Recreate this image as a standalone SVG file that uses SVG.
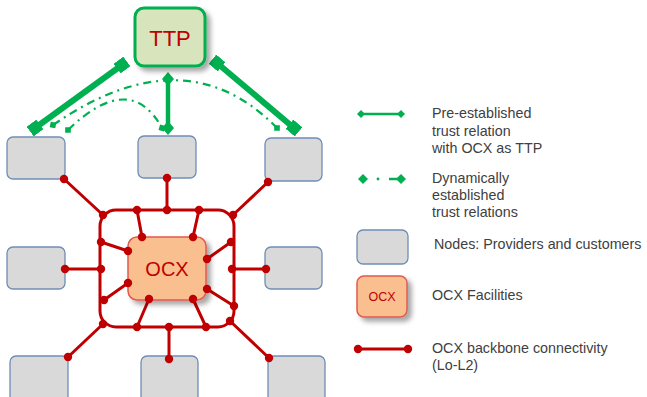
<svg xmlns="http://www.w3.org/2000/svg" width="647" height="397" viewBox="0 0 647 397">
<defs>
<filter id="sh" x="-20%" y="-20%" width="150%" height="150%">
<feDropShadow dx="4" dy="4" stdDeviation="2.5" flood-color="#000" flood-opacity="0.35"/>
</filter>
<marker id="sq" viewBox="-6 -6 12 12" markerWidth="12" markerHeight="12" markerUnits="userSpaceOnUse" orient="auto" refX="0" refY="0">
<rect x="-6" y="-6" width="12" height="12" fill="#00b050"/>
</marker>
<marker id="dm" viewBox="-7 -7 14 14" markerWidth="14" markerHeight="14" markerUnits="userSpaceOnUse" orient="auto" refX="0" refY="0">
<path d="M-7 0 L0 -6 L7 0 L0 6 Z" fill="#00b050"/>
</marker>
<marker id="sd" viewBox="-4 -4 8 8" markerWidth="8" markerHeight="8" markerUnits="userSpaceOnUse" orient="auto" refX="0" refY="0">
<path d="M-4 0 L0 -4 L4 0 L0 4 Z" fill="#00b050"/>
</marker>
<style>
.node{fill:#d9d9d9;stroke:#6f8db5;stroke-width:1.3}
.red{stroke:#c00000;stroke-width:3;fill:none;stroke-linecap:round}
.dot{fill:#c00000}
.thick{stroke:#00b050;stroke-width:6;fill:none}
.dd{stroke:#00b050;stroke-width:2.2;fill:none;stroke-dasharray:8 5 2 5}
.lbl{font-family:"Liberation Sans",Arial,sans-serif;font-size:14.3px;fill:#404040}
</style>
</defs>

<g id="connectors">
<g class="red">
<rect x="100" y="210" width="134" height="117" rx="16"/>
<line x1="137" y1="210" x2="142" y2="237"/>
<line x1="199" y1="210" x2="193" y2="237"/>
<line x1="101" y1="242" x2="128" y2="251"/>
<line x1="231" y1="242" x2="207" y2="259"/>
<line x1="104" y1="300" x2="128" y2="283"/>
<line x1="234" y1="306" x2="207" y2="289"/>
<line x1="137" y1="327" x2="149" y2="299"/>
<line x1="206" y1="327" x2="193" y2="299"/>
<line x1="64" y1="179" x2="103" y2="215"/>
<line x1="167" y1="178" x2="167" y2="210"/>
<line x1="268" y1="182" x2="233" y2="215"/>
<line x1="65" y1="269" x2="101" y2="269"/>
<line x1="266" y1="269" x2="232" y2="269"/>
<line x1="68" y1="357" x2="103" y2="324"/>
<line x1="169" y1="359" x2="169" y2="327"/>
<line x1="269" y1="358" x2="230" y2="321"/>
</g>
<g class="dot">
<circle cx="137" cy="210" r="4.2"/><circle cx="167" cy="210" r="4.2"/><circle cx="199" cy="210" r="4.2"/>
<circle cx="103" cy="215" r="4.2"/><circle cx="233" cy="215" r="4.2"/>
<circle cx="101" cy="242" r="4.2"/><circle cx="101" cy="269" r="4.2"/><circle cx="104" cy="300" r="4.2"/>
<circle cx="103" cy="324" r="4.2"/><circle cx="137" cy="327" r="4.2"/><circle cx="169" cy="327" r="4.2"/><circle cx="206" cy="327" r="4.2"/>
<circle cx="230" cy="321" r="4.2"/><circle cx="231" cy="242" r="4.2"/><circle cx="232" cy="269" r="4.2"/><circle cx="234" cy="306" r="4.2"/>
</g>
<path class="dd" d="M53 125 Q185 34 277 128" marker-start="url(#sd)" marker-end="url(#sd)"/>
<path class="dd" d="M68 130 Q130 70 162 128" marker-start="url(#sd)" marker-end="url(#sd)"/>
<line class="thick" x1="122" y1="65" x2="35" y2="128" marker-start="url(#sq)" marker-end="url(#sq)"/>
<line class="thick" x1="217" y1="63" x2="294" y2="128" marker-start="url(#sq)" marker-end="url(#sq)"/>
<line class="thick" style="stroke-width:4.5" x1="168" y1="79" x2="168" y2="128" marker-start="url(#dm)" marker-end="url(#dm)"/>
</g>

<g id="ttp">
<rect x="135" y="8" width="70" height="58" rx="9" fill="#d8e4bc" stroke="#00b050" stroke-width="3" filter="url(#sh)"/>
<text x="170" y="46" text-anchor="middle" font-family="Liberation Sans,Arial,sans-serif" font-size="22" fill="#c00000">TTP</text>
</g>

<g id="ocx">
<rect x="128" y="237" width="78" height="63" rx="9" fill="#f9bf8f" stroke="#e05a50" stroke-width="1.5" filter="url(#sh)"/>
<text x="167" y="276" text-anchor="middle" font-family="Liberation Sans,Arial,sans-serif" font-size="20" fill="#c00000">OCX</text>
<g class="dot">
<circle cx="142" cy="237" r="4.2"/><circle cx="193" cy="237" r="4.2"/>
<circle cx="128" cy="251" r="4.2"/><circle cx="207" cy="259" r="4.2"/>
<circle cx="128" cy="283" r="4.2"/><circle cx="207" cy="289" r="4.2"/>
<circle cx="149" cy="299" r="4.2"/><circle cx="193" cy="299" r="4.2"/>
</g>
</g>

<g id="n-top-left"><rect class="node" x="7" y="137" width="58" height="42" rx="6"/></g>
<g id="n-top-mid"><rect class="node" x="138" y="136" width="58" height="42" rx="6"/></g>
<g id="n-top-right"><rect class="node" x="265" y="138" width="57" height="43" rx="6"/></g>
<g id="n-mid-left"><rect class="node" x="7" y="247" width="58" height="42" rx="6"/></g>
<g id="n-mid-right"><rect class="node" x="265" y="247" width="57" height="42" rx="6"/></g>
<g id="n-bot-left"><rect class="node" x="10" y="356" width="58" height="50" rx="6"/></g>
<g id="n-bot-mid"><rect class="node" x="141" y="356" width="57" height="50" rx="6"/></g>
<g id="n-bot-right"><rect class="node" x="268" y="356" width="57" height="50" rx="6"/></g>

<g id="node-ports" class="dot">
<circle cx="64" cy="179" r="4.2"/><circle cx="167" cy="178" r="4.2"/><circle cx="268" cy="182" r="4.2"/>
<circle cx="65" cy="269" r="4.2"/><circle cx="266" cy="269" r="4.2"/>
<circle cx="68" cy="357" r="4.2"/><circle cx="169" cy="359" r="4.2"/><circle cx="269" cy="358" r="4.2"/>
</g>

<g id="legend">
<line x1="361" y1="114" x2="401" y2="114" stroke="#00b050" stroke-width="2.5" marker-start="url(#sd)" marker-end="url(#sd)"/>
<text class="lbl" x="432" y="118">Pre-established</text>
<text class="lbl" x="432" y="136">trust relation</text>
<text class="lbl" x="432" y="153">with OCX as TTP</text>
<path d="M358 179 L363 174 L368 179 L363 184 Z" fill="#00b050"/>
<circle cx="378" cy="179" r="1.4" fill="#00b050"/>
<line x1="389" y1="179" x2="400" y2="179" stroke="#00b050" stroke-width="2.5"/>
<path d="M396 179 L401 174 L406 179 L401 184 Z" fill="#00b050"/>
<text class="lbl" x="432" y="183">Dynamically</text>
<text class="lbl" x="432" y="200">established</text>
<text class="lbl" x="432" y="217">trust relations</text>
<rect class="node" x="357" y="230" width="51" height="34" rx="6"/>
<text class="lbl" x="434" y="249">Nodes: Providers and customers</text>
<rect x="357" y="276" width="50" height="41" rx="7" fill="#f9bf8f" stroke="#e05a50" stroke-width="1.5" filter="url(#sh)"/>
<text x="382" y="301" text-anchor="middle" font-family="Liberation Sans,Arial,sans-serif" font-size="12.5" fill="#c00000">OCX</text>
<text class="lbl" x="432" y="300">OCX Facilities</text>
<line x1="358" y1="349" x2="408" y2="349" stroke="#c00000" stroke-width="3"/>
<circle cx="358" cy="349" r="4.2" fill="#c00000"/>
<circle cx="408" cy="349" r="4.2" fill="#c00000"/>
<text class="lbl" x="432" y="353">OCX backbone connectivity</text>
<text class="lbl" x="432" y="370">(Lo-L2)</text>
</g>
</svg>
